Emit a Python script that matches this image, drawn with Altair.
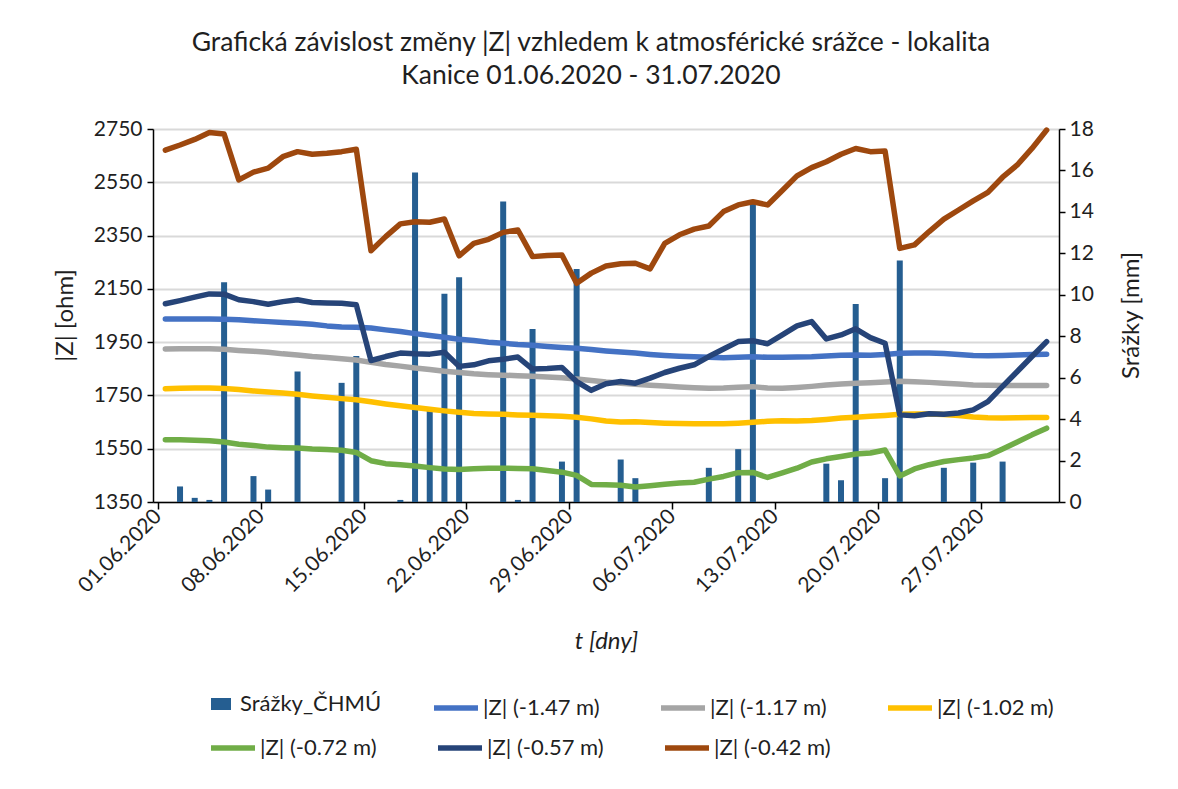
import altair as alt
import pandas as pd

# ---------------- data ----------------
START = "2020-06-01"
END = "2020-08-01"
N_DAYS = 61
days = pd.date_range(START, periods=N_DAYS, freq="D", tz="UTC")
day_mid = [(d + pd.Timedelta(hours=12)).strftime("%Y-%m-%dT%H:%M:%SZ") for d in days]

tick_dates = ["2020-06-01", "2020-06-08", "2020-06-15", "2020-06-22", "2020-06-29",
              "2020-07-06", "2020-07-13", "2020-07-20", "2020-07-27"]

rain_label = "Srážky_ČHMÚ"
rain_mm = [
    0, 0.75, 0.2, 0.1, 10.6, 0, 1.25, 0.6, 0, 6.3,
    0, 0, 5.75, 7.05, 0, 0, 0.1, 15.9, 4.55, 10.05,
    10.85, 0, 0, 14.5, 0.1, 8.35, 0, 1.95, 11.25, 0,
    0, 2.05, 1.15, 0, 0, 0, 0, 1.65, 0, 2.55,
    14.4, 0, 0, 0, 0, 1.85, 1.05, 9.55, 0, 1.15,
    11.65, 0, 0, 1.65, 0, 1.9, 0, 1.95, 0, 0,
    0,
]

z_147 = [
    2037, 2037, 2037, 2037, 2036, 2034, 2030, 2027, 2024, 2021,
    2017, 2011, 2007, 2006, 2003, 1996, 1990, 1982, 1975, 1968,
    1961, 1956, 1950, 1946, 1941, 1938, 1934, 1930, 1927, 1922,
    1917, 1913, 1909, 1904, 1900, 1897, 1895, 1893, 1891, 1893,
    1895, 1893, 1893, 1894, 1895, 1898, 1901, 1902, 1901, 1904,
    1908, 1909, 1909, 1907, 1904, 1900, 1899, 1900, 1902, 1904,
    1905,
]
z_117 = [
    1924, 1925, 1925, 1925, 1923, 1919, 1916, 1912, 1906, 1902,
    1896, 1892, 1888, 1883, 1874, 1866, 1860, 1853, 1847, 1841,
    1836, 1831, 1828, 1826, 1824, 1822, 1819, 1816, 1812, 1806,
    1800, 1796, 1792, 1788, 1785, 1782, 1779, 1777, 1778, 1781,
    1783, 1778, 1777, 1780, 1784, 1789, 1793, 1796, 1798, 1800,
    1803, 1801, 1799, 1796, 1793, 1789, 1788, 1787, 1787, 1787,
    1787,
]
z_102 = [
    1775, 1777, 1778, 1778, 1776, 1772, 1767, 1763, 1759, 1754,
    1748, 1743, 1738, 1734, 1726, 1718, 1711, 1705, 1698, 1692,
    1687, 1682, 1680, 1679, 1677, 1676, 1674, 1672, 1668, 1662,
    1654, 1650, 1651, 1648, 1646, 1645, 1644, 1644, 1644, 1646,
    1649, 1653, 1655, 1654, 1656, 1660, 1665, 1668, 1672, 1675,
    1679, 1680, 1680, 1678, 1675, 1669, 1666, 1665, 1666, 1667,
    1667,
]
z_072 = [
    1584, 1584, 1582, 1580, 1575, 1567, 1562, 1556, 1554, 1553,
    1549, 1547, 1544, 1536, 1505, 1494, 1490, 1485, 1479, 1474,
    1472, 1475, 1477, 1477, 1476, 1475, 1468, 1462, 1450, 1416,
    1415, 1413, 1406, 1411, 1417, 1421, 1424, 1436, 1446, 1460,
    1461, 1442, 1459, 1477, 1500, 1512, 1521, 1530, 1534, 1545,
    1448, 1474, 1490, 1502, 1509, 1515, 1524, 1549, 1575, 1602,
    1627,
]
z_057 = [
    2094, 2106, 2119, 2131, 2130, 2109, 2102, 2092, 2102, 2109,
    2099, 2097, 2096, 2090, 1881, 1896, 1909, 1906, 1905, 1912,
    1859, 1865, 1880, 1886, 1894, 1849, 1851, 1855, 1802, 1769,
    1794, 1802, 1796, 1815, 1836, 1852, 1865, 1896, 1924, 1952,
    1955, 1944, 1977, 2011, 2027, 1962, 1977, 2000, 1967, 1946,
    1677, 1674, 1681, 1679, 1684, 1696, 1727, 1784, 1840, 1896,
    1952,
]
z_042 = [
    2671, 2690, 2711, 2737, 2731, 2559, 2588, 2603, 2646, 2665,
    2655, 2659, 2665, 2674, 2293, 2346, 2394, 2402, 2400, 2412,
    2274, 2321, 2336, 2362, 2371, 2271, 2275, 2277, 2171, 2209,
    2236, 2244, 2246, 2225, 2321, 2353, 2374, 2386, 2440, 2465,
    2477, 2465, 2519, 2574, 2605, 2627, 2655, 2677, 2665, 2667,
    2302, 2315, 2365, 2412, 2446, 2480, 2512, 2569, 2615, 2677,
    2746,
]

labels_a = ["|Z| (-1.47 m)", "|Z| (-1.17 m)", "|Z| (-1.02 m)"]
labels_b = ["|Z| (-0.72 m)", "|Z| (-0.57 m)", "|Z| (-0.42 m)"]
colors_a = ["#4472c4", "#a5a5a5", "#ffc000"]
colors_b = ["#70ad47", "#264478", "#9e480e"]
bar_color = "#255e91"

title_lines = ["Grafická závislost změny |Z| vzhledem k atmosférické srážce -  lokalita",
               "Kanice 01.06.2020 - 31.07.2020"]

# ---------------- tables ----------------
def ms(s):
    return int(pd.Timestamp(s, tz="UTC").value // 10**6)

tick_ms = [ms(t) for t in tick_dates]
x_domain = [ms(START), ms(END)]

rain_df = pd.DataFrame({"date": day_mid, "rain": rain_mm, "src": rain_label})

def long(labels, arrays):
    frames = []
    for lab, arr in zip(labels, arrays):
        frames.append(pd.DataFrame({"date": day_mid, "value": arr, "series": lab}))
    return pd.concat(frames, ignore_index=True)

df_a = long(labels_a, [z_147, z_117, z_102])
df_b = long(labels_b, [z_072, z_057, z_042])

FONT = "Lato"
TXT = "#1f1f1f"
LW = 5.5
LAB = 21     # tick label size
ATT = 24     # axis title size
LEG = 22     # legend label size
COLPAD = 50

x_enc = alt.X(
    "date:T",
    scale=alt.Scale(type="utc", domain=x_domain, nice=False),
    axis=alt.Axis(
        values=tick_ms,
        labelExpr="utcFormat(datum.value, '%d.%m.%Y')",
        labelAngle=315, labelAlign="right", labelBaseline="middle",
        labelFontSize=LAB, labelPadding=4, labelColor=TXT, labelFont=FONT,
        title="t [dny]", titleFontStyle="italic", titleFontSize=ATT,
        titleFontWeight="normal", titleColor=TXT, titleFont=FONT,
        titleY=139, titleBaseline="middle",
        grid=False, tickSize=7, tickColor="#000", tickWidth=1.5,
        domainColor="#000", domainWidth=1.5,
    ),
)

y_left_scale = alt.Scale(domain=[1350, 2750], nice=False, zero=False)

bars = alt.Chart(rain_df).mark_bar(size=6).encode(
    x=x_enc,
    y=alt.Y(
        "rain:Q",
        scale=alt.Scale(domain=[0, 18], nice=False),
        axis=alt.Axis(
            orient="right", values=list(range(0, 19, 2)), grid=False, format="d",
            title="Srážky [mm]", titleFontSize=ATT, titleFontWeight="normal",
            titleColor=TXT, titleFont=FONT, titleAngle=270,
            titleX=72, titleY=186, titleAlign="center", titleBaseline="middle",
            labelFontSize=LAB, labelColor=TXT, labelFont=FONT, labelPadding=4,
            tickSize=6, tickColor="#000", tickWidth=1.5,
            domainColor="#000", domainWidth=1.5,
        ),
    ),
    fill=alt.Fill(
        "src:N",
        scale=alt.Scale(domain=[rain_label], range=[bar_color]),
        legend=alt.Legend(
            title=None, orient="none", legendX=57, legendY=564, padding=0,
            symbolType="M-1,-0.6L1,-0.6L1,0.6L-1,0.6Z", symbolSize=400,
            symbolStrokeWidth=0, labelFontSize=LEG, labelFont=FONT,
            labelColor=TXT, labelOffset=8,
        ),
    ),
)

line_a = alt.Chart(df_a).mark_line(strokeWidth=LW, strokeJoin="round", strokeCap="round").encode(
    x=x_enc,
    y=alt.Y(
        "value:Q", scale=y_left_scale,
        axis=alt.Axis(
            orient="left", values=list(range(1350, 2751, 200)), format="d",
            grid=True, gridColor="#d9d9d9", gridWidth=2,
            title="|Z| [ohm]", titleFontSize=ATT, titleFontWeight="normal",
            titleColor=TXT, titleFont=FONT, titleAngle=270,
            titleX=-88, titleY=186, titleAlign="center", titleBaseline="middle",
            labelFontSize=LAB, labelColor=TXT, labelFont=FONT, labelPadding=5,
            tickSize=6, tickColor="#000", tickWidth=1.5,
            domainColor="#000", domainWidth=1.5,
        ),
    ),
    stroke=alt.Stroke(
        "series:N",
        scale=alt.Scale(domain=labels_a, range=colors_a),
        legend=alt.Legend(
            title=None, orient="none", legendX=278, legendY=554, padding=0,
            direction="horizontal", columns=3, columnPadding=COLPAD,
            symbolType="stroke", symbolSize=1936, symbolStrokeWidth=LW,
            labelFontSize=LEG, labelFont=FONT, labelColor=TXT, labelOffset=2,
        ),
    ),
    order=alt.Order("date:T"),
)

line_b = alt.Chart(df_b).mark_line(strokeWidth=LW, strokeJoin="round", strokeCap="round").encode(
    x=x_enc,
    y=alt.Y("value:Q", scale=y_left_scale, axis=None),
    color=alt.Color(
        "series:N",
        scale=alt.Scale(domain=labels_b, range=colors_b),
        legend=alt.Legend(
            title=None, orient="none", legendX=55, legendY=594, padding=0,
            direction="horizontal", columns=3, columnPadding=COLPAD,
            symbolType="stroke", symbolSize=1936, symbolStrokeWidth=LW,
            labelFontSize=LEG, labelFont=FONT, labelColor=TXT, labelOffset=2,
        ),
    ),
    order=alt.Order("date:T"),
)

chart = (
    alt.layer(bars, line_a, line_b)
    .resolve_scale(y="independent")
    .properties(
        width=906,
        height=373,
        autosize=alt.AutoSizeParams(type="none"),
        padding={"left": 145, "top": 121, "right": 111, "bottom": 270},
        title=alt.TitleParams(
            text=title_lines, font=FONT, fontSize=26.5, fontWeight="normal",
            color=TXT, anchor="middle", lineHeight=33, offset=29, dx=-15,
        ),
    )
    .configure_view(stroke=None)
)

chart.save("out.html", embed_options={"renderer": "svg", "actions": False})
